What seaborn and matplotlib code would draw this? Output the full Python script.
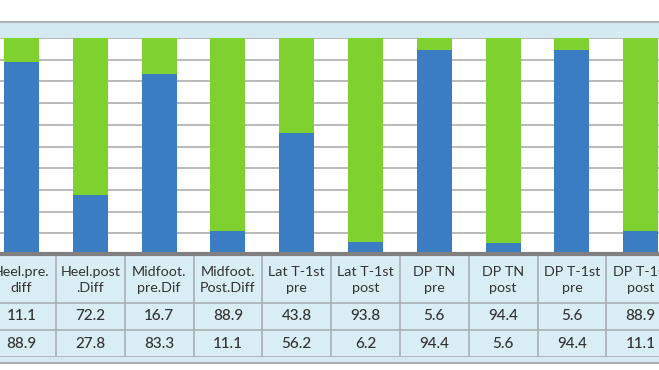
import matplotlib
matplotlib.use("Agg")
import matplotlib.pyplot as plt
import seaborn as sns
import pandas as pd
from matplotlib.patches import Rectangle

categories = ["Heel.pre.\ndiff", "Heel.post\n.Diff", "Midfoot.\npre.Dif", "Midfoot.\nPost.Diff",
              "Lat T-1st\npre", "Lat T-1st\npost", "DP TN\npre", "DP TN\npost",
              "DP T-1st\npre", "DP T-1st\npost"]
green_vals = [11.1, 72.2, 16.7, 88.9, 43.8, 93.8, 5.6, 94.4, 5.6, 88.9]
blue_vals = [88.9, 27.8, 83.3, 11.1, 56.2, 6.2, 94.4, 5.6, 94.4, 11.1]

BLUE = "#3b7dc2"
GREEN = "#7ed12f"
CELL = "#d9edf4"
LINE = "#a9b0b4"
TXT = "#333333"

sns.set_theme(style="white")
plt.rcParams["font.family"] = ["Lato", "DejaVu Sans"]

df = pd.DataFrame({"cat": categories, "green": green_vals, "blue": blue_vals})
df["total"] = df["green"] + df["blue"]

W, H = 659, 370
fig = plt.figure(figsize=(W / 100, H / 100), dpi=100)
fig.patch.set_facecolor("white")

# background decoration axes in pixel coordinates
ax_bg = fig.add_axes([0, 0, 1, 1], zorder=0)
ax_bg.set_xlim(0, W)
ax_bg.set_ylim(H, 0)
ax_bg.axis("off")
ax_bg.add_patch(Rectangle((0, 22), W, 16, facecolor="#d4eaf3", edgecolor="none"))
ax_bg.plot([0, W], [22, 22], color="#b0b3b5", lw=1.6)
ax_bg.add_patch(Rectangle((0, 356), W, 6, facecolor="#d4eaf3", edgecolor="none"))
ax_bg.plot([0, W], [362.5, 362.5], color="#a8acae", lw=1.4)

# bar axes
x0 = -12.9
xw = 688.0
ax = fig.add_axes([x0 / W, (H - 255) / H, xw / W, 217 / H], zorder=2)
ax.patch.set_alpha(0)
sns.barplot(data=df, x="cat", y="total", color=GREEN, width=0.51, saturation=1,
            edgecolor="none", ax=ax, zorder=3)
sns.barplot(data=df, x="cat", y="blue", color=BLUE, width=0.51, saturation=1,
            edgecolor="none", ax=ax, zorder=4)
ax.set_xlim(-0.5, len(categories) - 0.5)
ax.set_ylim(0, 100)
ax.set_xlabel("")
ax.set_ylabel("")
ax.set_xticks([])
ax.set_yticks([])
for s in ax.spines.values():
    s.set_visible(False)
for g in range(10, 101, 10):
    ax.axhline(g, color="#b4b4b4", lw=1.3, zorder=1)
ax.axhline(0.3, color="#808080", lw=3, zorder=5, clip_on=False)

# table axes
ax_t = fig.add_axes([x0 / W, (H - 357) / H, xw / W, (357 - 256) / H], zorder=1)
ax_t.set_xlim(-0.5, len(categories) - 0.5)
ax_t.set_ylim(357, 256)
ax_t.set_facecolor(CELL)
ax_t.set_xticks([])
ax_t.set_yticks([])
for s in ax_t.spines.values():
    s.set_visible(False)
for i in range(len(categories) + 1):
    ax_t.plot([i - 0.5, i - 0.5], [256, 357], color=LINE, lw=1.2)
for yy in [303, 330, 356.5]:
    ax_t.plot([-0.5, len(categories) - 0.5], [yy, yy], color=LINE, lw=1.2)
for i, c in enumerate(categories):
    ax_t.text(i, 279.5, c, ha="center", va="center", fontsize=10.3, color=TXT,
              linespacing=1.4)
    ax_t.text(i, 316.5, f"{green_vals[i]:.1f}", ha="center", va="center",
              fontsize=11, color=TXT, fontweight="medium")
    ax_t.text(i, 343.5, f"{blue_vals[i]:.1f}", ha="center", va="center",
              fontsize=11, color=TXT, fontweight="medium")

fig.savefig("out.png", dpi=100)
